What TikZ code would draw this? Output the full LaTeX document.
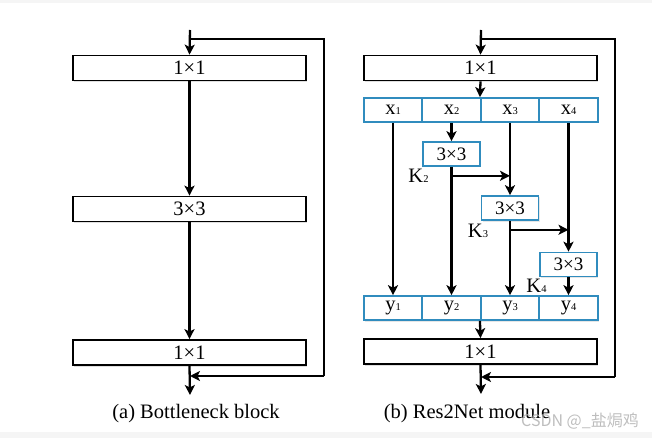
\documentclass[tikz,border=0pt]{standalone}
\usepackage{fontspec}
\setmainfont{Liberation Serif}
\newfontfamily\cjkwm{Noto Sans CJK SC}
\usetikzlibrary{arrows.meta,shadows}
\newcommand\bigfnt{\fontsize{20.5}{23}\selectfont}
\newcommand\midfnt{\fontsize{19}{21}\selectfont}
\newcommand\sbs[1]{{\fontsize{10.5}{11}\selectfont #1}}
\definecolor{cellblue}{RGB}{48,140,190}
\begin{document}
\begin{tikzpicture}[x=1pt,y=-1pt,
  arr/.style={line width=2.3pt,-{Stealth[length=10pt,width=10pt,inset=2.5pt]}},
  ln/.style={line width=2.3pt},
  graybox/.style={draw=black,line width=1.7pt,fill=white,minimum width=233pt,minimum height=25pt,inner sep=0pt,font=\bigfnt,
    drop shadow={shadow xshift=1.2pt,shadow yshift=-1.5pt,opacity=0.25}},
  cell/.style={draw=cellblue,line width=1.6pt,fill=white,minimum width=58.5pt,minimum height=24pt,inner sep=0pt,font=\bigfnt,
    drop shadow={shadow xshift=1.2pt,shadow yshift=-1.5pt,opacity=0.2}},
  conv/.style={draw=cellblue,line width=1.6pt,fill=white,minimum width=57pt,minimum height=24pt,inner sep=0pt,font=\midfnt,
    drop shadow={shadow xshift=1.2pt,shadow yshift=-1.5pt,opacity=0.2}},
  klab/.style={font=\bigfnt,inner sep=0pt},
  captext/.style={font=\bigfnt,inner sep=0pt}]
\useasboundingbox (0,0) rectangle (652,438);
\fill[gray!8] (0,0) rectangle (652,3);
\fill[gray!8] (0,432) rectangle (652,438);

% ---------- (a) Bottleneck block ----------
\node[graybox] (a1) at (189.5,68) {1×1};
\node[graybox] (a2) at (189.5,209) {3×3};
\node[graybox] (a3) at (189.5,352.5) {1×1};
\coordinate (ain) at (190,30);
\coordinate (askip) at (190,39);
\coordinate (ac1) at (324,39);
\coordinate (ac2) at (324,376);
\coordinate (aj) at (190,376);
\coordinate (aout) at (190,395);
\draw[arr] (ain) -- (a1.north);
\draw[arr] (a1) -- (a2);
\draw[arr] (a2) -- (a3);
\draw[arr] (a3.south) -- (aout);
\draw[ln] (askip) -- (ac1) -- (ac2);
\draw[arr] (ac2) -- (aj);
\node[captext] (capa) at (196,414) {(a) Bottleneck block};

% ---------- (b) Res2Net module ----------
\node[graybox] (b1) at (480.5,68) {1×1};
\node[cell] (x1) at (393,110) {x\sbs{1}};
\node[cell] (x2) at (451.5,110) {x\sbs{2}};
\node[cell] (x3) at (510,110) {x\sbs{3}};
\node[cell] (x4) at (568.5,110) {x\sbs{4}};
\node[cell] (y1) at (393,308) {y\sbs{1}};
\node[cell] (y2) at (451.5,308) {y\sbs{2}};
\node[cell] (y3) at (510,308) {y\sbs{3}};
\node[cell] (y4) at (568.5,308) {y\sbs{4}};
\node[conv] (c2) at (451.5,154) {3×3};
\node[conv] (c3) at (510,208) {3×3};
\node[conv] (c4) at (568.5,264.5) {3×3};
\node[graybox] (b2) at (480.5,351.5) {1×1};

\coordinate (bin) at (481,30);
\coordinate (bskip) at (481,39);
\coordinate (bc1) at (615,39);
\coordinate (bc2) at (615,377);
\coordinate (bj) at (481,377);
\coordinate (bout) at (481,394);
\draw[arr] (bin) -- (b1.north);
\draw[arr] (b1.south) -- (x3.north west);
\draw[arr] (x1.south) -- (y1.north);
\draw[arr] (x2.south) -- (c2.north);
\draw[arr] (c2.south) -- (y2.north);
\draw[arr] (x3.south) -- (c3.north);
\draw[arr] (c3.south) -- (y3.north);
\draw[arr] (x4.south) -- (c4.north);
\draw[arr] (c4.south) -- (y4.north);
\draw[arr] ([yshift=-9pt]c2.south) -- ([yshift=-9pt]c2.south -| c3.north);
\draw[arr] ([yshift=-9pt]c3.south) -- ([yshift=-9pt]c3.south -| c4.north);
\node[klab] (k2) at ([xshift=-33pt,yshift=-9pt]c2.south) {K\sbs{2}};
\node[klab] (k3) at ([xshift=-32pt,yshift=-10pt]c3.south) {K\sbs{3}};
\node[klab] (k4) at ([xshift=-32pt,yshift=-8pt]c4.south) {K\sbs{4}};
\draw[arr] (y3.south west) -- (b2.north);
\draw[arr] (b2.south) -- (bout);
\draw[ln] (bskip) -- (bc1) -- (bc2);
\draw[arr] (bc2) -- (bj);
\node[captext] (capb) at (467,414) {(b) Res2Net module};
\node[font=\fontsize{16}{18}\selectfont\cjkwm,text=gray!60,inner sep=0pt,opacity=0.85] (wm) at (580,421) {CSDN @\_盐焗鸡};
\end{tikzpicture}
\end{document}
